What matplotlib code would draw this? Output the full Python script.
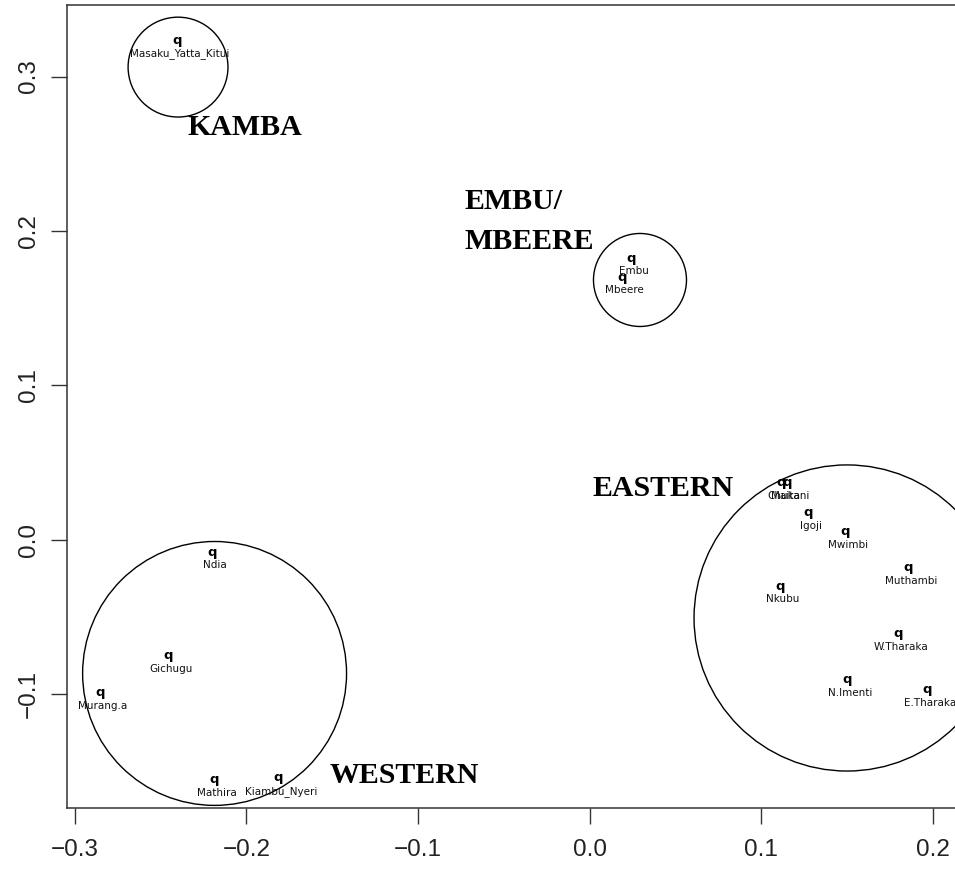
import matplotlib
matplotlib.use("Agg")
import matplotlib.pyplot as plt
from matplotlib.patches import Ellipse

# point coordinates
names = ["Masaku_Yatta_Kitui", "Embu", "Mbeere", "Chuka", "Maitani", "Igoji",
         "Mwimbi", "Muthambi", "Nkubu", "W.Tharaka", "N.Imenti", "E.Tharaka",
         "Ndia", "Gichugu", "Murang.a", "Mathira", "Kiambu_Nyeri"]
xs = [-0.2404, 0.0242, 0.0189, 0.1116, 0.1151, 0.1273,
      0.1489, 0.1856, 0.1110, 0.1798, 0.1501, 0.1967,
      -0.2200, -0.2456, -0.2853, -0.2188, -0.1815]
ys = [0.3236, 0.1825, 0.1702, 0.0369, 0.0369, 0.0175,
      0.0052, -0.0181, -0.0298, -0.0608, -0.0906, -0.0971,
      -0.0078, -0.0751, -0.0990, -0.1553, -0.1540]

# group circles: centre and radius (in x units)
group_names = ["KAMBA", "EMBU/\nMBEERE", "EASTERN", "WESTERN"]
circle_x = [-0.2398, 0.0294, 0.1501, -0.2185]
circle_y = [0.3061, 0.1683, -0.0505, -0.0864]
circle_r = [0.0291, 0.0271, 0.0892, 0.0769]
label_x = [-0.2345, -0.0726, 0.0020, -0.1512]
label_y = [0.2621, 0.2142, 0.0285, -0.1573]

xticks = [-0.3, -0.2, -0.1, 0.0, 0.1, 0.2]
yticks = [-0.1, 0.0, 0.1, 0.2, 0.3]


def fmt(v):
    s = "%.1f" % abs(v)
    return ("\u2212" + s) if v < 0 else s


fig = plt.figure(figsize=(9.55, 8.73), dpi=100)
ax = fig.add_axes([0.07016, 0.07446, 0.94031, 0.91982])
ax.set_xlim(-0.3045, 0.2188)
ax.set_ylim(-0.1735, 0.3463)

# aspect between x and y units in pixels
ratio = 1716.0 / 1545.0

for x, y, n in zip(xs, ys, names):
    ax.text(x, y, "q", ha="center", va="center", fontsize=9.5,
            fontweight="bold", family="DejaVu Sans", color="black")
    ax.annotate(n, (x, y), xytext=(2, -9.5), textcoords="offset points",
                ha="center", va="center", fontsize=7.5,
                family="DejaVu Sans", color="#111111")

for cx, cy, r in zip(circle_x, circle_y, circle_r):
    ax.add_patch(Ellipse((cx, cy), 2 * r, 2 * r * ratio, fill=False,
                         edgecolor="black", linewidth=1.0))

for gx, gy, g in zip(label_x, label_y, group_names):
    lines = g.split("\n")
    for i, ln in enumerate(lines):
        ax.text(gx, gy - i * 0.0259, ln, ha="left", va="baseline",
                fontsize=21.5, fontweight="bold", family="Liberation Serif")

ax.set_xticks(xticks)
ax.set_xticklabels([fmt(v) for v in xticks])
ax.set_yticks(yticks)
ax.set_yticklabels([fmt(v) for v in yticks], rotation=90, va="center")
ax.tick_params(axis="x", length=11.5, width=1.0, color="#333333",
               pad=11, labelsize=17.5, labelcolor="#222222")
ax.tick_params(axis="y", length=11.5, width=1.0, color="#333333",
               pad=8, labelsize=17.5, labelcolor="#222222")
for lab in ax.get_xticklabels() + ax.get_yticklabels():
    lab.set_family("Liberation Sans")
for s in ax.spines.values():
    s.set_linewidth(1.1)
    s.set_color("#333333")

fig.savefig("out.png", dpi=100)
